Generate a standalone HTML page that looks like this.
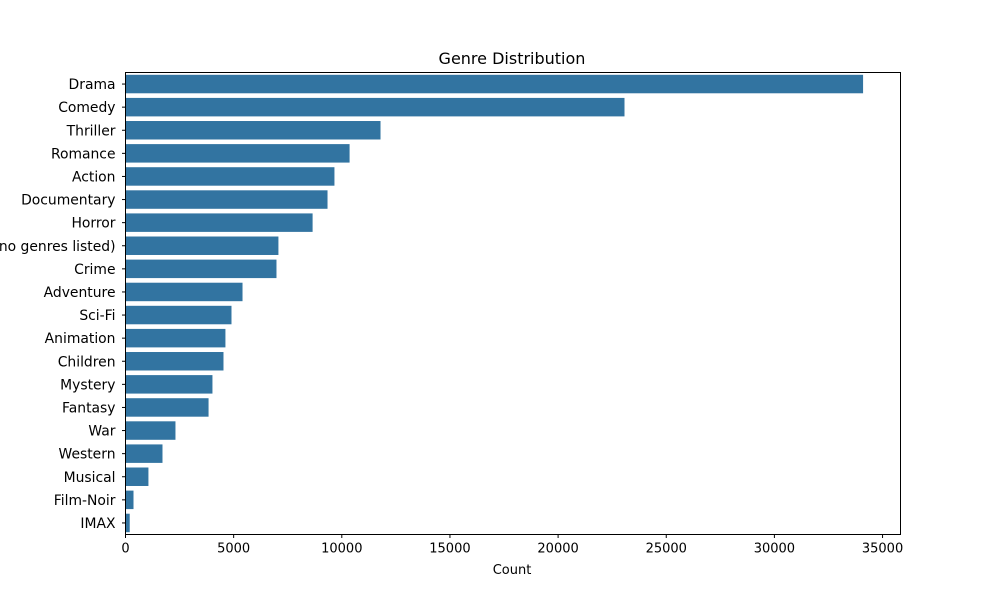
<!DOCTYPE html>
<html><head><meta charset="utf-8"><style>
body{margin:0;background:#fff;font-family:"Liberation Sans","DejaVu Sans",sans-serif;}
svg text{font-family:"DejaVu Sans","Liberation Sans",sans-serif;}
</style></head><body>
<svg id="chart" width="1000" height="600" xmlns="http://www.w3.org/2000/svg">
<rect width="1000" height="600" fill="#fff"/>
<text x="512" y="64" text-anchor="middle" font-size="16">Genre Distribution</text>
<g id="bars"></g><g id="yticks"></g><g id="xticks"></g>
<rect x="125.5" y="72.5" width="775" height="462" fill="none" stroke="#000" stroke-width="1"/>
<text x="512" y="574" text-anchor="middle" font-size="13">Count</text>
</svg>
<script>
const categories=["Drama","Comedy","Thriller","Romance","Action","Documentary","Horror","(no genres listed)","Crime","Adventure","Sci-Fi","Animation","Children","Mystery","Fantasy","War","Western","Musical","Film-Noir","IMAX"];
const counts=[34100,23070,11790,10360,9660,9340,8650,7070,6980,5410,4900,4620,4530,4020,3840,2310,1710,1060,370,195];
const xTicks=[0,5000,10000,15000,20000,25000,30000,35000];
const L=125.5,R=900.5,T=72.5,B=534.5,XMAX=35830;
const NS="http://www.w3.org/2000/svg";
const x=v=>L+v/XMAX*(R-L);
const band=(B-T)/categories.length;
const y=i=>T+i*band;
const gb=document.getElementById('bars'),gy=document.getElementById('yticks'),gx=document.getElementById('xticks');
function mk(t,a){const e=document.createElementNS(NS,t);for(const k in a)e.setAttribute(k,a[k]);return e;}
categories.forEach((c,i)=>{
 const r=mk('rect',{x:L,y:y(i)+band*0.1,width:x(counts[i])-L,height:band*0.8,fill:'#3274a1'});
 
 
 gb.appendChild(r);
 const ln=mk('line',{x1:L-3.5,x2:L,y1:y(i)+band/2,y2:y(i)+band/2,stroke:'#000'});
 
 
 gy.appendChild(ln);
 const t=mk('text',{x:L-10,y:y(i)+band/2+5,'text-anchor':'end','font-size':13.9});
 
 
 t.textContent=c;gy.appendChild(t);
});
xTicks.forEach(v=>{
 const ln=mk('line',{x1:x(v),x2:x(v),y1:B,y2:B+3.5,stroke:'#000'});
 
 
 gx.appendChild(ln);
 const t=mk('text',{x:x(v),y:B+18,'text-anchor':'middle','font-size':13});
 
 
 t.textContent=v;gx.appendChild(t);
});
</script>
</body></html>
